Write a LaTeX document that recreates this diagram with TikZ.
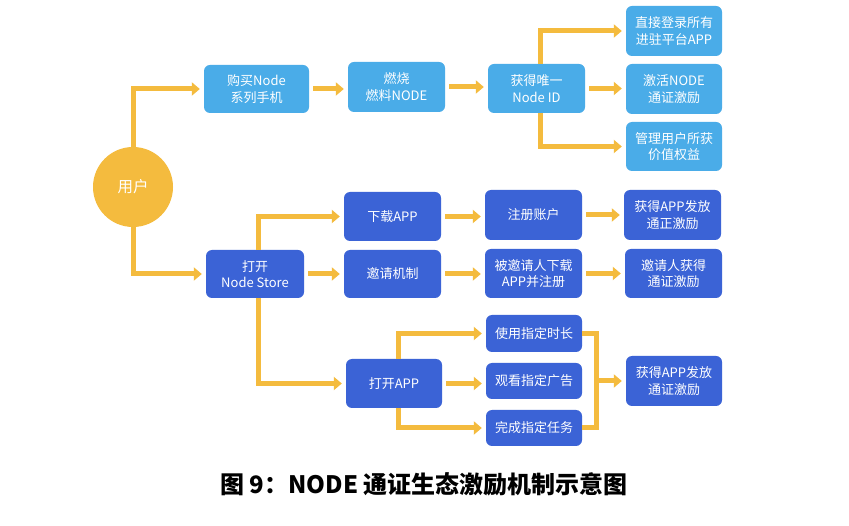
\documentclass[tikz,border=0pt]{standalone}
\usepackage{fontspec}
\setmainfont{Noto Sans CJK SC}
\usetikzlibrary{arrows.meta}
\definecolor{lblue}{RGB}{74,172,232}
\definecolor{dblue}{RGB}{59,99,214}
\definecolor{orng}{RGB}{244,187,62}
\tikzset{
  lb/.style={rectangle, rounded corners=6pt, fill=lblue, text=white, minimum width=97pt, minimum height=49pt, align=center, inner sep=0pt, font=\fontsize{13}{16.5}\selectfont},
  db/.style={lb, fill=dblue},
  ln/.style={draw=orng, line width=5pt},
  arr/.style={ln, -{Triangle[width=13pt,length=8pt]}, shorten >=4pt},
  sarr/.style={arr, shorten <=4pt},
}
\begin{document}
\begin{tikzpicture}[x=1pt,y=-1pt]
\fill[white] (0,0) rectangle (849,526);
\useasboundingbox (0,0) rectangle (849,526);
% nodes
\node[circle, fill=orng, text=white, minimum size=80pt, inner sep=0pt, font=\fontsize{15.5}{18}\selectfont] (user) at (133,187) {用户};
\node[lb, minimum width=105pt, minimum height=48pt] (buy) at (256.5,89) {购买Node\\系列手机};
\node[lb, minimum height=50pt] (burn) at (396.5,87) {燃烧\\燃料NODE};
\node[lb] (nid) at (536.5,88.5) {获得唯一\\Node ID};
\node[lb, minimum width=96pt, minimum height=50pt] (r1) at (674,31) {直接登录所有\\进驻平台APP};
\node[lb, minimum width=96pt, minimum height=50pt] (r2) at (674,89) {激活NODE\\通证激励};
\node[lb, minimum width=96pt] (r3) at (674,146.5) {管理用户所获\\价值权益};

\node[db, minimum width=98pt, minimum height=48pt] (ns) at (255,274) {打开\\Node Store};
\node[db] (dl) at (392.5,216.5) {下载APP};
\node[db, minimum height=48pt] (inv) at (392.5,274) {邀请机制};
\node[db, minimum width=96pt] (oa) at (394,383.5) {打开APP};
\node[db, minimum height=50pt] (reg) at (533.5,215) {注册账户};
\node[db] (invd) at (533.5,273.5) {被邀请人下载\\APP并注册};
\node[db, minimum height=50pt] (rw1) at (672.5,215) {获得APP发放\\通正激励};
\node[db] (rw2) at (673.5,273.5) {邀请人获得\\通证激励};
\node[db, minimum width=96pt, minimum height=37pt] (use) at (534,333.5) {使用指定时长};
\node[db, minimum width=96pt, minimum height=36pt] (watch) at (534,381) {观看指定广告};
\node[db, minimum width=96pt, minimum height=36pt] (task) at (534,428) {完成指定任务};
\node[db, minimum width=96pt, minimum height=50pt] (rw3) at (674,381) {获得APP发放\\通证激励};

\node[font=\fontsize{24}{28}\selectfont\bfseries] (cap) at (424,484) {图 9：NODE 通证生态激励机制示意图};

% connectors top
\draw[arr] (user) |- (buy);
\draw[sarr] (buy.east) -- (buy.east -| burn.west);
\draw[sarr] (burn.east) -- (burn.east -| nid.west);
\draw[arr] ([xshift=4pt]nid.north) |- (r1.west);
\draw[sarr] (nid.east) -- (nid.east -| r2.west);
\draw[arr] ([xshift=4pt]nid.south) |- (r3.west);
% connectors bottom
\draw[arr] (user) |- (ns);
\draw[arr] ([xshift=3pt]ns.north) |- (dl.west);
\draw[sarr] (ns.east) -- (ns.east -| inv.west);
\draw[arr] ([xshift=3pt]ns.south) |- (oa.west);
\draw[sarr] (dl.east) -- (dl.east -| reg.west);
\draw[sarr] (inv.east) -- (inv.east -| invd.west);
\draw[arr] ([xshift=4pt]oa.north) |- (use.west);
\draw[sarr] (oa.east) -- (oa.east -| watch.west);
\draw[arr] ([xshift=4pt]oa.south) |- (task.west);
\draw[sarr] (reg.east) -- (reg.east -| rw1.west);
\draw[sarr] (invd.east) -- (invd.east -| rw2.west);
\coordinate (m) at (596,381);
\draw[ln] (use.east) -| (m) |- (task.east);
\draw[arr] (m) -- (rw3.west);
\end{tikzpicture}
\end{document}
